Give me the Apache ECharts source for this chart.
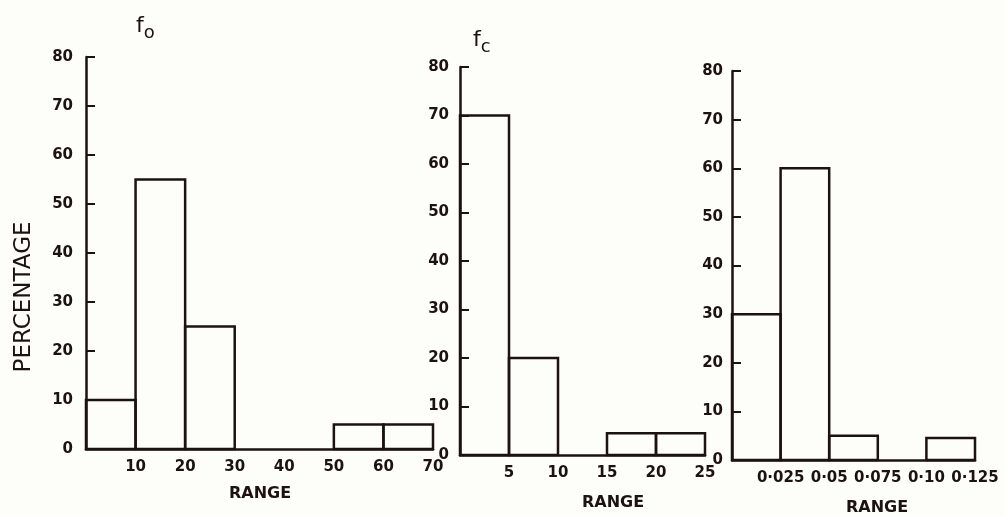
<!DOCTYPE html>
<html>
<head>
<meta charset="utf-8">
<script src="https://cdn.jsdelivr.net/npm/echarts@6/dist/echarts.min.js"></script>
<style>
  html, body { margin: 0; padding: 0; background: #fdfdfa; }
  #chart { width: 1005px; height: 517px; }
</style>
</head>
<body>
<div id="chart"></div>
<script>
// bin edges and percentages for each panel
const foEdges = [0, 10, 20, 30, 40, 50, 60, 70];
const foValues = [10, 55, 25, 0, 0, 5, 5];
const foTickLabels = ["", "10", "20", "30", "40", "50", "60", "70"];

const fcEdges = [0, 5, 10, 15, 20, 25];
const fcValues = [70, 20, 0, 4.5, 4.5];
const fcTickLabels = ["", "5", "10", "15", "20", "25"];

const thirdEdges = [0, 0.025, 0.05, 0.075, 0.1, 0.125];
const thirdValues = [30, 60, 5, 0, 4.5];
const thirdTickLabels = ["", "0·025", "0·05", "0·075", "0·10", "0·125"];

const yTickLabels = ["0", "10", "20", "30", "40", "50", "60", "70", "80"];

const ink = "#1c1212";
const labelFont = { color: ink, fontFamily: "DejaVu Sans", fontSize: 15, fontWeight: "bold" };

function toBins(edges, values) {
  return values
    .map((v, i) => [edges[i], edges[i + 1], v])
    .filter((d) => d[2] > 0);
}

function renderBin(params, api) {
  var topLeft = api.coord([api.value(0), api.value(2)]);
  var bottomRight = api.coord([api.value(1), 0]);
  return {
    type: "rect",
    shape: {
      x: topLeft[0],
      y: topLeft[1],
      width: bottomRight[0] - topLeft[0],
      height: bottomRight[1] - topLeft[1],
    },
    style: { fill: "transparent", stroke: ink, lineWidth: 2.5 },
  };
}

function xAxisFor(idx, edges, labels) {
  var step = edges[1] - edges[0];
  return {
    gridIndex: idx,
    type: "value",
    min: 0,
    max: edges[edges.length - 1],
    interval: step,
    axisLine: { show: true, lineStyle: { color: ink, width: 2.5 } },
    axisTick: { show: false },
    splitLine: { show: false },
    axisLabel: Object.assign({}, labelFont, {
      margin: 11,
      showMinLabel: true,
      showMaxLabel: true,
      formatter: function (v) {
        return labels[Math.round(v / step)] || "";
      },
    }),
  };
}

function yAxisFor(idx, margin) {
  return {
    gridIndex: idx,
    type: "value",
    min: 0,
    max: 80,
    interval: 10,
    axisLine: { show: true, lineStyle: { color: ink, width: 2.5 } },
    // ticks point into the plot, as in the scanned figure
    axisTick: { show: true, length: -9, lineStyle: { color: ink, width: 2 } },
    splitLine: { show: false },
    axisLabel: Object.assign({}, labelFont, {
      margin: margin,
      formatter: function (v) {
        return yTickLabels[Math.round(v / 10)];
      },
    }),
  };
}

var chart = echarts.init(document.getElementById("chart"));

var option = {
  backgroundColor: "#fdfdfa",
  animation: false,
  grid: [
    { left: 86, top: 57, width: 347, height: 392 },
    { left: 460, top: 67, width: 245, height: 388 },
    { left: 732, top: 71, width: 243, height: 389 },
  ],
  xAxis: [
    xAxisFor(0, foEdges, foTickLabels),
    xAxisFor(1, fcEdges, fcTickLabels),
    xAxisFor(2, thirdEdges, thirdTickLabels),
  ],
  yAxis: [yAxisFor(0, 13), yAxisFor(1, 11), yAxisFor(2, 9)],
  series: [
    { type: "custom", xAxisIndex: 0, yAxisIndex: 0, renderItem: renderBin, data: toBins(foEdges, foValues) },
    { type: "custom", xAxisIndex: 1, yAxisIndex: 1, renderItem: renderBin, data: toBins(fcEdges, fcValues) },
    { type: "custom", xAxisIndex: 2, yAxisIndex: 2, renderItem: renderBin, data: toBins(thirdEdges, thirdValues) },
  ],
  graphic: [
    {
      type: "text",
      x: 24,
      y: 297,
      rotation: Math.PI / 2,
      style: {
        text: "PERCENTAGE",
        fill: ink,
        font: "23px 'DejaVu Sans'",
        align: "center",
        verticalAlign: "middle",
      },
    },
    {
      type: "text",
      x: 136,
      y: 10,
      style: {
        text: "f{s|o}",
        fill: ink,
        font: "22px 'DejaVu Sans'",
        rich: { s: { fontSize: 18, fontFamily: "DejaVu Sans", fill: ink, padding: [14, 0, 0, 0] } },
      },
    },
    {
      type: "text",
      x: 473,
      y: 24,
      style: {
        text: "f{s|c}",
        fill: ink,
        font: "22px 'DejaVu Sans'",
        rich: { s: { fontSize: 18, fontFamily: "DejaVu Sans", fill: ink, padding: [14, 0, 0, 0] } },
      },
    },
    {
      type: "text",
      x: 260,
      y: 494,
      style: { text: "RANGE", fill: ink, font: "bold 16px 'DejaVu Sans'", align: "center", verticalAlign: "middle" },
    },
    {
      type: "text",
      x: 613,
      y: 503,
      style: { text: "RANGE", fill: ink, font: "bold 16px 'DejaVu Sans'", align: "center", verticalAlign: "middle" },
    },
    {
      type: "text",
      x: 877,
      y: 508,
      style: { text: "RANGE", fill: ink, font: "bold 16px 'DejaVu Sans'", align: "center", verticalAlign: "middle" },
    },
  ],
};

chart.setOption(option);
</script>
</body>
</html>
